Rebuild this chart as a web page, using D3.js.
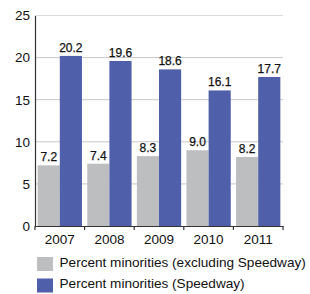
<!DOCTYPE html>
<html>
<head>
<meta charset="utf-8">
<script src="https://cdn.jsdelivr.net/npm/d3@7"></script>
<style>
  body { margin: 0; background: #fff; }
  text { font-family: "Liberation Sans", Arial, sans-serif; fill: #111; }
</style>
</head>
<body>
<div id="chart"></div>
<script>
// Data
const years = ["2007", "2008", "2009", "2010", "2011"];
const excludingSpeedway = [7.2, 7.4, 8.3, 9.0, 8.2];
const speedway = [20.2, 19.6, 18.6, 16.1, 17.7];
const seriesNames = ["Percent minorities (excluding Speedway)", "Percent minorities (Speedway)"];
const seriesColors = ["#bdbec0", "#4f5fa9"];
const yTicks = [0, 5, 10, 15, 20, 25];

const svg = d3.select("#chart")
    .append("svg")
    .attr("width", 310)
    .attr("height", 294);

const plotLeft = 35, plotRight = 283, plotTop = 15.5, plotBottom = 226;

const xScale = d3.scaleBand()
    .domain(years)
    .range([plotLeft, plotRight]);

const inner = d3.scaleBand()
    .domain([0, 1])
    .range([0, xScale.bandwidth()])
    .paddingOuter(0.12);

const yScale = d3.scaleLinear()
    .domain([0, 25])
    .range([plotBottom, plotTop]);

// gridlines
svg.append("g")
    .selectAll("line")
    .data(yTicks.filter(d => d > 0))
    .enter()
    .append("line")
    .attr("x1", plotLeft)
    .attr("x2", plotRight)
    .attr("y1", d => yScale(d))
    .attr("y2", d => yScale(d))
    .attr("stroke", d => d == 25 ? "#dcdcdc" : "#c8c8c8")
    .attr("stroke-width", 1);

// bars
const allSeries = [excludingSpeedway, speedway];
allSeries.forEach((values, i) => {
    svg.append("g")
        .selectAll("rect")
        .data(values)
        .enter()
        .append("rect")
        .attr("x", (d, j) => xScale(years[j]) + inner(i))
        .attr("y", d => yScale(d))
        .attr("width", inner.bandwidth())
        .attr("height", d => yScale(0) - yScale(d))
        .attr("fill", seriesColors[i]);

    svg.append("g")
        .selectAll("text")
        .data(values)
        .enter()
        .append("text")
        .attr("x", (d, j) => xScale(years[j]) + inner(i) + inner.bandwidth() / 2)
        .attr("y", d => yScale(d) - 4)
        .attr("text-anchor", "middle")
        .attr("font-size", 12)
        .attr("stroke", "#111")
        .attr("stroke-width", 0.25)
        .text(d => d.toFixed(1));
});

// y axis
const yAxis = d3.axisLeft(yScale).tickValues(yTicks).tickSize(0).tickPadding(5);
const gy = svg.append("g")
    .attr("transform", `translate(${plotLeft}, 0)`)
    .call(yAxis);
gy.select(".domain").attr("stroke", "#333").attr("stroke-width", 1.2);
gy.selectAll("text").attr("font-size", 13.5).style("font-family", "Liberation Sans, Arial, sans-serif").attr("fill", "#111");

// x axis
const xAxis = d3.axisBottom(xScale).tickSize(0).tickPadding(8);
const gx = svg.append("g")
    .attr("transform", `translate(0, ${plotBottom})`)
    .call(xAxis);
gx.select(".domain").attr("stroke", "#333").attr("stroke-width", 1.2);
gx.selectAll("text").attr("font-size", 13.5).style("font-family", "Liberation Sans, Arial, sans-serif").attr("fill", "#111");

// group separator ticks
svg.append("g")
    .selectAll("line")
    .data(years.concat(["end"]))
    .enter()
    .append("line")
    .attr("x1", d => d == "end" ? plotRight : xScale(d))
    .attr("x2", d => d == "end" ? plotRight : xScale(d))
    .attr("y1", plotBottom)
    .attr("y2", plotBottom + 4)
    .attr("stroke", "#333")
    .attr("stroke-width", 1.2);

// legend
const legend = svg.append("g");
seriesNames.forEach((name, i) => {
    legend.append("rect")
        .attr("x", 37)
        .attr("y", 257 + i * 21.5)
        .attr("width", 16)
        .attr("height", 14)
        .attr("fill", seriesColors[i]);
    legend.append("text")
        .attr("x", 59.5)
        .attr("y", 266.5 + i * 21.5)
        .attr("font-size", 13.6)
        .text(name);
});
</script>
</body>
</html>
